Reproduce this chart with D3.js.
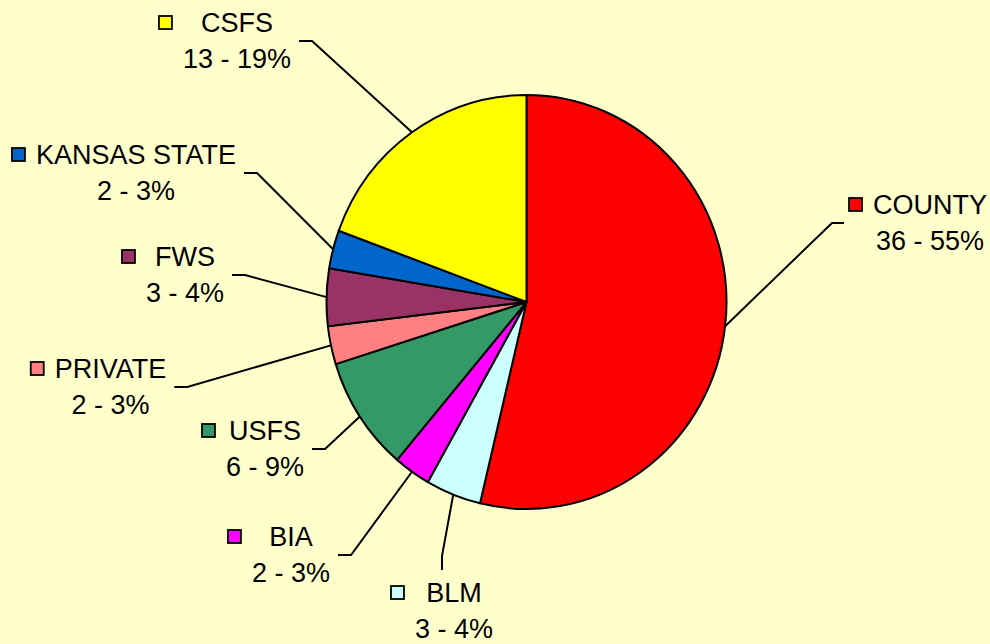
<!DOCTYPE html>
<html>
<head>
<meta charset="utf-8">
<title>Pie</title>
<script src="https://d3js.org/d3.v7.min.js"></script>
<style>
    body { margin: 0; background: #ffffcc; }
    svg { display: block; }
    text { font-family: "Liberation Sans", Arial, sans-serif; font-size: 27px; fill: #000; }
</style>
</head>
<body>
<div id="chart"></div>
<script>
    // Dane
    const categories = ["COUNTY", "BLM", "BIA", "USFS", "PRIVATE", "FWS", "KANSAS STATE", "CSFS"];
    const values = [36, 3, 2, 6, 2, 3, 2, 13];
    const percents = [55, 4, 3, 9, 3, 4, 3, 19];
    const colors = ["#ff0000", "#ccffff", "#ff00ff", "#339966", "#ff8080", "#993366", "#0066cc", "#ffff00"];

    // label placement: text centre x, first baseline y, side the leader attaches to
    const labelPos = [
        [930, 214, "left"],
        [454, 602, "top"],
        [291, 546, "right"],
        [265, 440, "right"],
        [110.5, 378, "right"],
        [185, 266, "right"],
        [136, 164, "right"],
        [237, 32, "right"]
    ];

    const width = 990, height = 644;
    const cx = 526.5, cy = 302, rx = 200, ry = 207;
    const lineGap = 36;

    const svg = d3.select("#chart").append("svg")
        .attr("width", width)
        .attr("height", height);

    svg.append("rect")
        .attr("width", width)
        .attr("height", height)
        .attr("fill", "#ffffcc");

    const pie = d3.pie().sort(null).value(d => d)(values);
    const arc = d3.arc().innerRadius(0).outerRadius(rx);

    const g = svg.append("g")
        .attr("transform", `translate(${cx},${cy}) scale(1,${ry / rx})`);

    g.selectAll("path")
        .data(pie)
        .enter().append("path")
        .attr("d", arc)
        .attr("fill", (d, i) => colors[i])
        .attr("stroke", "#000")
        .attr("stroke-width", 2)
        .attr("stroke-linejoin", "round")
        .attr("vector-effect", "non-scaling-stroke");

    // Etykiety
    const labels = svg.append("g");
    pie.forEach((d, i) => {
        const [tx, b1, side] = labelPos[i];
        const lg = labels.append("g");
        const t1 = lg.append("text")
            .attr("x", tx).attr("y", b1)
            .attr("text-anchor", "middle")
            .text(categories[i]);
        const t2 = lg.append("text")
            .attr("x", tx).attr("y", b1 + lineGap)
            .attr("text-anchor", "middle")
            .text(values[i] + " - " + percents[i] + "%");
        const w = Math.max(t1.node().getComputedTextLength(), t2.node().getComputedTextLength());
        const left = tx - w / 2, right = tx + w / 2;
        const mx = left - 24;

        lg.append("rect")
            .attr("x", mx).attr("y", b1 - 9.5 - 6.5)
            .attr("width", 13).attr("height", 13)
            .attr("fill", colors[i])
            .attr("stroke", "#000")
            .attr("stroke-width", 1.8);

        // leader line
        const a = (d.startAngle + d.endAngle) / 2;
        const p0 = [cx + rx * Math.sin(a), cy - ry * Math.cos(a)];
        let end, elbow;
        const my = b1 + 9;
        if (side === "right") {
            end = [right + 8, my];
            elbow = [end[0] + 13, my];
        } else if (side === "left") {
            end = [mx - 5, my];
            elbow = [end[0] - 12, my];
        } else {
            end = [tx - 12, b1 - 19 - 13];
            elbow = [end[0], end[1] - 14];
        }
        lg.append("path")
            .attr("d", d3.line()([p0, elbow, end]))
            .attr("fill", "none")
            .attr("stroke", "#000")
            .attr("stroke-width", 2);
    });
</script>
</body>
</html>
